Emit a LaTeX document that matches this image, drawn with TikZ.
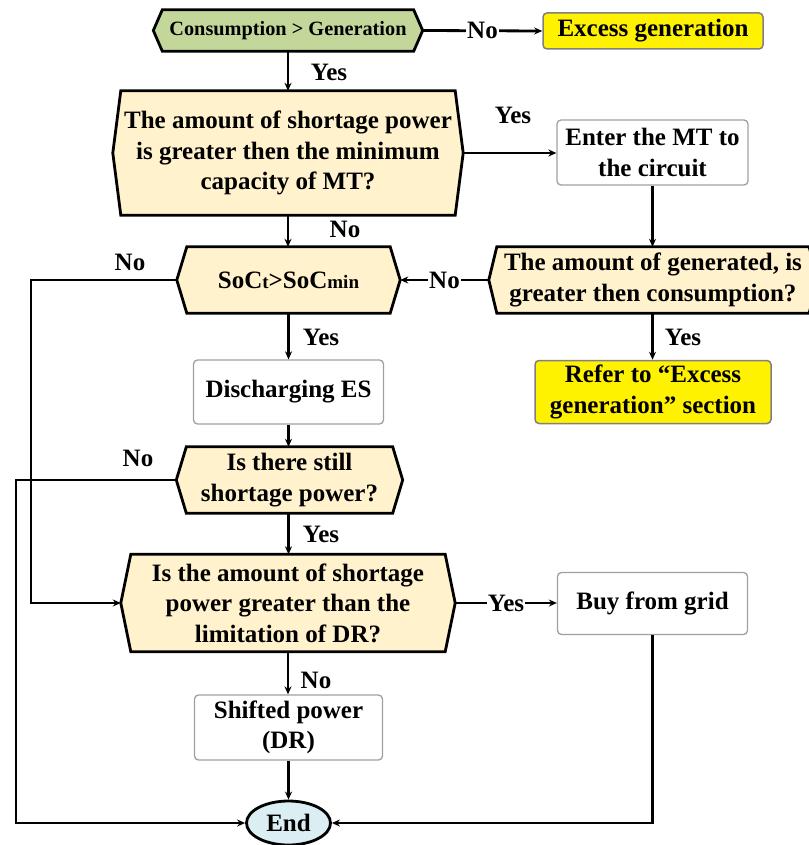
\documentclass[tikz,border=0pt]{standalone}
\usepackage{fontspec}
\setmainfont{Liberation Serif}
\usetikzlibrary{arrows.meta,backgrounds,shapes.geometric}
\definecolor{tan}{RGB}{255,242,204}
\definecolor{olivegreen}{RGB}{196,215,155}
\definecolor{endblue}{RGB}{218,238,243}
\definecolor{boxgray}{RGB}{160,160,160}
\newcommand\hexshape[3]{%
  \begin{scope}[on background layer]
    \filldraw[line width=2.8pt, line join=miter, fill=#3]
      (#1.west) -- ([xshift=#2pt]#1.north west) -- ([xshift=-#2pt]#1.north east)
      -- (#1.east) -- ([xshift=-#2pt]#1.south east) -- ([xshift=#2pt]#1.south west) -- cycle;
  \end{scope}}
\begin{document}
\begin{tikzpicture}[x=1pt,y=-1pt,
  txt/.style={font=\fontsize{25}{30.5}\selectfont\bfseries, align=center},
  hexnode/.style={txt, rectangle, inner sep=0pt, draw=none},
  whitebox/.style={txt, rectangle, rounded corners=4pt, draw=boxgray, line width=1.3pt, fill=white, inner sep=0pt},
  yellowbox/.style={txt, rectangle, rounded corners=4pt, draw=gray, line width=1.5pt, fill=yellow, inner sep=0pt},
  lbl/.style={font=\fontsize{25}{28}\selectfont\bfseries, inner sep=1pt},
  conn/.style={line width=2.8pt, -{Stealth[length=8pt,width=7pt]}},
  plain/.style={line width=2.8pt}
]
\useasboundingbox (0,0) rectangle (808,845);

% nodes
\node[hexnode, minimum width=269pt, minimum height=41pt, font=\fontsize{20.3}{24}\selectfont\bfseries] (start) at (288,30.5) {Consumption > Generation};
\node[yellowbox, minimum width=220pt, minimum height=36pt] (excess) at (653,31) {Excess generation};
\node[hexnode, minimum width=350pt, minimum height=124pt] (q1) at (288,153) {The amount of shortage power\\is greater then the minimum\\capacity of MT?};
\node[whitebox, minimum width=191pt, minimum height=65pt] (enter) at (652.5,152.5) {Enter the MT to\\the circuit};
\node[hexnode, minimum width=328pt, minimum height=66pt] (gen) at (653,280) {The amount of generated, is\\greater then consumption?};
\node[hexnode, minimum width=223pt, minimum height=66pt] (soc) at (288.5,280) {SoC{\fontsize{19}{19}\selectfont t}>SoC{\fontsize{19}{19}\selectfont min}};
\node[yellowbox, minimum width=236pt, minimum height=63pt] (refer) at (653,392) {Refer to “Excess\\generation” section};
\node[whitebox, minimum width=190pt, minimum height=64pt] (dis) at (288.5,392) {Discharging ES};
\node[hexnode, minimum width=226pt, minimum height=66pt] (still) at (289.5,480) {Is there still\\shortage power?};
\node[hexnode, minimum width=334pt, minimum height=97pt] (dr) at (288,603) {Is the amount of shortage\\power greater than the\\limitation of DR?};
\node[whitebox, minimum width=190pt, minimum height=62pt] (buy) at (652.5,603.5) {Buy from grid};
\node[whitebox, minimum width=188pt, minimum height=65pt] (shift) at (288.5,727.5) {Shifted power\\(DR)};
\node[txt, ellipse, draw, line width=2.8pt, fill=endblue, minimum width=84pt, minimum height=44pt, inner sep=0pt] (end) at (288.5,823) {End};

\hexshape{start}{9}{olivegreen}
\hexshape{q1}{8}{tan}
\hexshape{gen}{8}{tan}
\hexshape{soc}{10}{tan}
\hexshape{still}{10}{tan}
\hexshape{dr}{10}{tan}

% connectors
\draw[conn] (start.south) -- (start.south |- q1.north);
\node[lbl] (l1) at (329,72) {Yes};
\draw[conn] (start.east) -- node[lbl, fill=white] (l2) {No} (excess.west);
\draw[conn] (q1.east) -- (q1.east -| enter.west);
\node[lbl] (l3) at (513,115) {Yes};
\draw[conn] (enter.south) -- (enter.south |- gen.north);
\draw[conn] (q1.south) -- (q1.south |- soc.north);
\node[lbl, fill=white, inner sep=2pt] (l4) at (345,229) {No};
\draw[conn] (gen.west) -- node[lbl, fill=white] (l5) {No} (soc.east);
\draw[conn] (enter.south |- gen.south) -- (enter.south |- refer.north);
\node[lbl] (l6) at (683,337) {Yes};
\draw[conn] (soc.south) -- (soc.south |- dis.north);
\node[lbl] (l7) at (321,337) {Yes};
\coordinate (c1) at (31,280);
\coordinate (c2) at (31,603);
\draw[conn] (soc.west) -- (c1) -- (c2) -- (dr.west);
\node[lbl] (l8) at (130,262) {No};
\draw[conn] (dis.south) -- (dis.south |- still.north);
\coordinate (c3) at (16,480);
\coordinate (c4) at (16,823);
\draw[conn] (still.west) -- (c3) -- (c4) -- (end.west);
\node[lbl] (l9) at (138,458) {No};
\draw[conn] (dis.south |- still.south) -- (dis.south |- dr.north);
\node[lbl] (l10) at (321,534) {Yes};
\draw[conn] (dr.east) -- node[lbl, fill=white] (l11) {Yes} (dr.east -| buy.west);
\draw[conn] (dr.south) -- (dr.south |- shift.north);
\node[lbl] (l12) at (316,680) {No};
\draw[conn] (shift.south) -- (end.north);
\coordinate (c5) at (652.5,823);
\draw[conn] (buy.south) -- (c5) -- (end.east);
\end{tikzpicture}
\end{document}
